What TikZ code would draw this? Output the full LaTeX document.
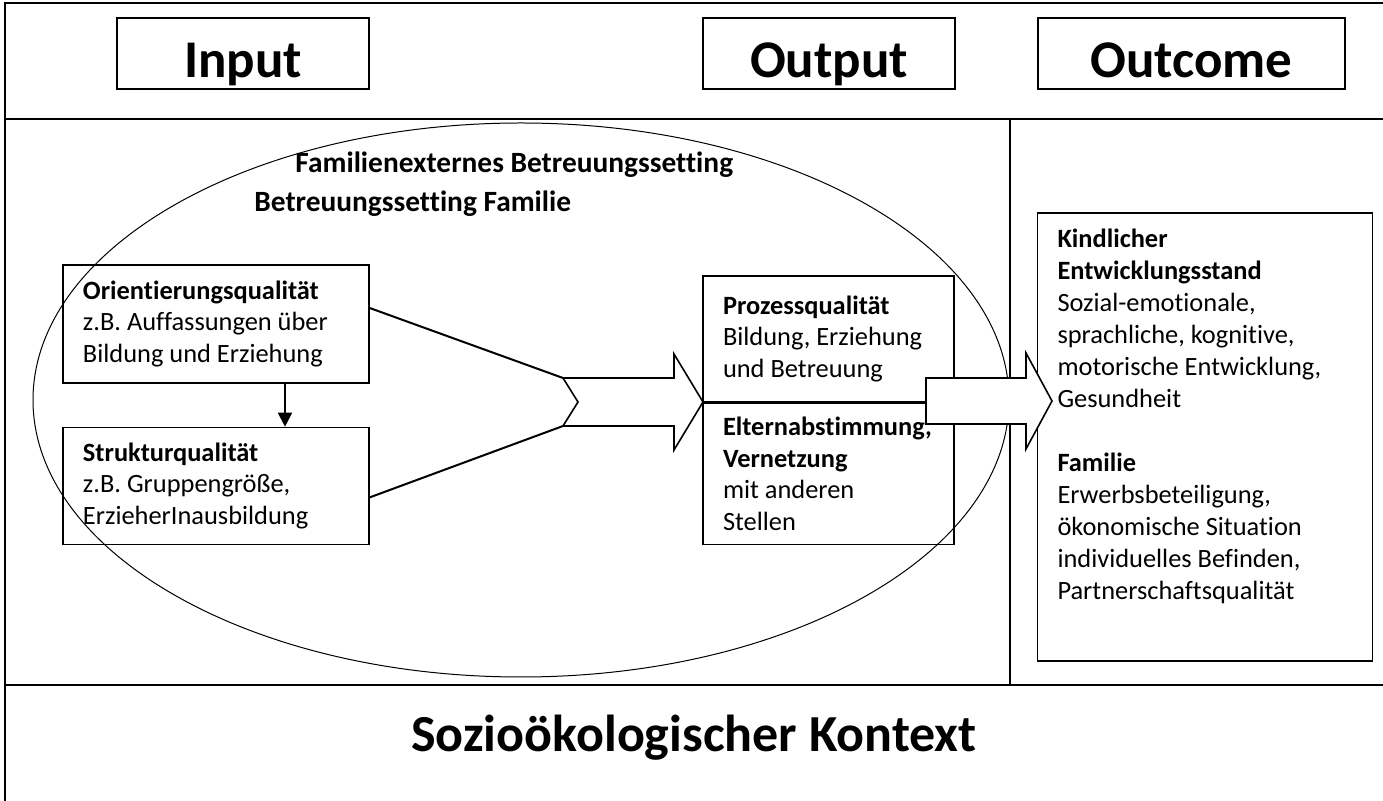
\documentclass[tikz,border=0pt]{standalone}
\usepackage{fontspec}
\setmainfont[Ligatures=NoCommon]{Carlito}
\usepackage{tikz}
\usetikzlibrary{positioning, arrows.meta, calc}

\begin{document}
\begin{tikzpicture}[x=0.5pt,y=-0.5pt]
    \tikzstyle{frame}=[line width=0.7pt]
    \tikzstyle{titlebox}=[draw,line width=0.7pt,minimum height=35.5pt,inner sep=0pt,text height=24.5pt,text depth=0pt,font=\fontsize{26.5}{30}\selectfont\bfseries]
    \tikzstyle{qualbox}=[draw,line width=0.7pt,align=flush left,inner xsep=10pt,inner ysep=0pt,font=\fontsize{13.2}{15.75}\selectfont]
    \tikzstyle{heading}=[inner sep=0pt,anchor=base west,font=\fontsize{14.7}{17}\selectfont\bfseries]
    \tikzstyle{conn}=[line width=1pt]
    \tikzstyle{bigarrow}=[draw,fill=white,line width=0.8pt]

    \useasboundingbox (0,0) rectangle (1383,801);

    \draw[frame] (1383,3) -- (5,3) -- (5,801);
    \draw[frame] (5,119) -- (1383,119);
    \draw[frame] (5,685) -- (1383,685);
    \draw[frame] (1010,119) -- (1010,685);

    \node (input)[titlebox,minimum width=126pt] at (243,53.5) {Input};
    \node (output)[titlebox,minimum width=126pt] at (829,53.5) {Output};
    \node (outcome)[titlebox,minimum width=153.5pt] at (1191.5,53.5) {Outcome};

    \draw[line width=0.5pt] (521,400) ellipse [x radius=244pt, y radius=138.5pt];

    \node (extern)[heading] at (295,173) {Familienexternes Betreuungssetting};
    \node (famil)[heading] at (254,212) {Betreuungssetting Familie};

    \node (orient)[qualbox,text width=133pt,minimum height=59pt] at (216,324)
        {\textbf{Orientierungsqualität}\\z.B. Auffassungen über\\Bildung und Erziehung};
    \node (struk)[qualbox,text width=133pt,minimum height=58.5pt,below=21.5pt of orient]
        {\textbf{Strukturqualität}\\z.B. Gruppengröße,\\ErzieherInausbildung};

    \node (proc)[qualbox,text width=105.5pt,minimum height=63pt] at (828.5,339)
        {\textbf{Prozessqualität}\\Bildung, Erziehung\\und Betreuung};
    \node (eltern)[qualbox,text width=105.5pt,minimum height=70.5pt,below=0pt of proc]
        {\textbf{Elternabstimmung,}\\\textbf{Vernetzung}\\mit anderen\\Stellen};

    \node (outbox)[draw,line width=0.7pt,minimum width=167.5pt,minimum height=224pt] at (1205,437) {};
    \node (outtext)[qualbox,draw=none,text width=147.5pt,font=\fontsize{13.2}{16}\selectfont,below right=8pt and 0pt of outbox.north west]
        {\textbf{Kindlicher}\\\textbf{Entwicklungsstand}\\Sozial-emotionale,\\sprachliche, kognitive,\\motorische Entwicklung,\\Gesundheit\\[16pt]
         \textbf{Familie}\\Erwerbsbeteiligung,\\ökonomische Situation\\individuelles Befinden,\\Partnerschaftsqualität};

    \coordinate (ax) at (285,0);
    \draw[conn,-{Triangle[length=7pt,width=7pt]}] (orient.south -| ax) -- (struk.north -| ax);

    \coordinate (chevtop) at (563,378);
    \coordinate (chevbot) at (563,426);
    \draw[conn] ($(orient.east)+(0,-16)$) -- (chevtop);
    \draw[conn] ($(struk.east)+(0,11.5)$) -- (chevbot);
    \draw[bigarrow] (chevtop) -- (674,378) -- (674,354) -- (703,402) -- (674,450) -- (674,426) -- (chevbot) -- (578,402) -- cycle;

    \draw[bigarrow] (926,378) -- (1026,378) -- (1026,353) -- (1052,401) -- (1026,449) -- (1026,424) -- (926,424) -- cycle;

    \node (kontext)[inner sep=0pt,anchor=base,font=\fontsize{26}{30}\selectfont\bfseries] at (694,752) {Sozioökologischer Kontext};
\end{tikzpicture}
\end{document}
